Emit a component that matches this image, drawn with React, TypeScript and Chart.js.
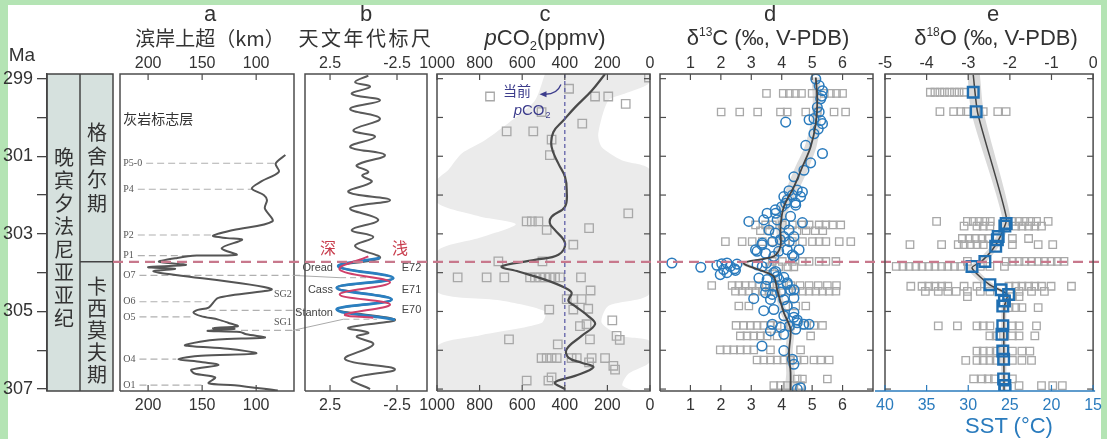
import React, { useEffect, useRef } from 'react';
import { Chart, registerables } from 'chart.js';
Chart.register(...registerables);

type P = [number, number];

// ---------------- data ----------------
const maTicks = [299, 300, 301, 302, 303, 304, 305, 306, 307];
const maLabelled = [299, 301, 303, 305, 307];
const stageBoundaryMa = 303.72;
const periodName = '晚宾夕法尼亚亚纪';
const upperStage = '格舍尔期';
const lowerStage = '卡西莫夫期';

// a: coastal onlap (km)
const onlapTicks = [200, 150, 100];
const onlapKm = [73, 82, 79, 96, 104, 93, 90, 92, 85, 121, 140, 127, 113, 132, 118, 155, 173, 190, 165, 200, 175, 195, 190, 86, 135, 144, 154, 158, 151, 135, 126, 117, 140, 120, 145, 115, 109, 92, 135, 152, 166, 157, 126, 100, 151, 172, 151, 135, 160, 157, 138, 144, 120, 80];
const onlapMa = [300.97, 301.19, 301.4, 301.66, 301.83, 302.0, 302.13, 302.34, 302.68, 302.9, 303.05, 303.11, 303.15, 303.37, 303.54, 303.56, 303.62, 303.72, 303.8, 303.86, 303.9, 303.96, 304.0, 304.42, 304.65, 304.9, 304.96, 305.03, 305.12, 305.21, 305.29, 305.38, 305.43, 305.45, 305.5, 305.53, 305.59, 305.67, 305.72, 305.78, 305.87, 305.9, 305.96, 306.08, 306.14, 306.23, 306.3, 306.38, 306.5, 306.6, 306.7, 306.85, 306.9, 307.04];
const markerTitle = '灰岩标志层';
const markerLabels = ['P5-0', 'P4', 'P2', 'P1', 'O7', 'O6', 'O5', 'O4', 'O1'];
const markerMa = [301.18, 301.85, 303.03, 303.56, 304.07, 304.75, 305.14, 306.23, 306.9];
const markerLineEnd = [80, 104, 140, 158, 65, 144, 157, 174, 148];
const sgLabels = ['SG2', 'SG1'];
const sgLabelMa = [304.56, 305.28];
const sgLineMa = [304.97, 305.49];
const sgLineStart = [144, 114];

// b: astronomical time scale
const astroTicks = [2.5, -2.5];
const astroVal = [-0.36, 0.63, -0.49, 0.88, -1.23, 1.0, -1.23, 0.76, -0.86, 1.0, -1.6, 0.51, -0.36, 0.1, -0.61, 1.13, -1.98, 1.0, -1.1, 0.88, -0.73, 0.63, -1.23, 1.88, -2.22, 2.0, -2.1, 2.0, -2.35, 1.13, -0.36, 0.51, -0.73, 1.38, -2.35, 0.88, -0.49];
const astroMa = [298.92, 299.09, 299.21, 299.39, 299.56, 299.78, 300.03, 300.33, 300.5, 300.76, 300.97, 301.23, 301.4, 301.5, 301.66, 301.92, 302.13, 302.34, 302.64, 302.9, 303.08, 303.32, 303.62, 303.84, 304.14, 304.39, 304.69, 304.95, 305.21, 305.42, 305.55, 305.65, 305.85, 306.23, 306.49, 306.74, 307.0];
const astroBlue: P[] = [[-1.23, 303.62], [1.88, 303.84], [-2.22, 304.14], [2.0, 304.39], [-2.1, 304.69], [2.0, 304.95], [-2.35, 305.21]];
const astroRed: P[] = [[-0.36, 303.58], [1.78, 303.92], [-1.98, 304.25], [1.78, 304.56], [-1.98, 304.82], [1.38, 305.08], [-0.73, 305.16]];
const cycloLabels = ['Oread', 'Cass', 'Stanton'];
const cycloMa = [303.87, 304.44, 305.03];
const eccLabels = ['E72', 'E71', 'E70'];
const eccMa = [303.87, 304.44, 304.95];
const depthLabels = ['深', '浅'];
const depthVal = [2.65, -2.72];
const depthMa = 303.36;

// c: pCO2
const co2Ticks = [1000, 800, 600, 400, 200, 0];
const co2Modern = 400;
const co2Curve: P[] = [[211, 298.88], [274, 299.31], [352, 299.74], [407, 300.08], [454, 300.38], [462, 300.76], [430, 301.19], [399, 301.53], [391, 301.87], [399, 302.3], [462, 302.56], [470, 302.73], [450, 302.88], [399, 303.24], [430, 303.54], [540, 303.67], [696, 303.84], [618, 303.97], [493, 304.18], [399, 304.39], [368, 304.52], [383, 304.73], [352, 304.86], [290, 305.12], [258, 305.33], [321, 305.63], [391, 305.97], [383, 306.19], [321, 306.32], [266, 306.44], [352, 306.66], [446, 306.83], [399, 307.0]];
const co2BandHigh: P[] = [[493, 298.88], [540, 299.56], [650, 300.08], [775, 300.59], [884, 300.93], [948, 301.36], [1000, 301.62], [1000, 302.2], [800, 302.55], [630, 302.75], [800, 303.1], [1000, 303.45], [1000, 304.5], [700, 304.72], [493, 305.0], [510, 305.3], [800, 305.62], [1000, 305.9], [1000, 307.05]];
const co2BandLow: P[] = [[0, 298.88], [8, 299.14], [120, 299.39], [196, 299.56], [243, 300.42], [227, 300.76], [133, 301.1], [0, 301.36], [0, 304.52], [196, 304.86], [227, 305.29], [133, 305.63], [0, 305.76], [0, 306.3], [100, 306.6], [130, 306.9], [80, 307.05]];
const co2Proxy: P[] = [[5, 298.97], [380, 299.26], [751, 299.46], [258, 299.46], [196, 299.46], [114, 299.65], [509, 299.86], [318, 300.16], [673, 300.36], [548, 300.36], [462, 300.57], [470, 300.97], [102, 302.47], [579, 302.68], [555, 302.68], [524, 302.68], [485, 302.9], [286, 302.85], [360, 303.28], [712, 303.71], [505, 303.71], [903, 304.12], [767, 304.12], [684, 304.12], [563, 304.12], [540, 304.12], [516, 304.12], [493, 304.12], [470, 304.12], [446, 304.12], [423, 304.12], [324, 304.12], [279, 304.46], [321, 304.68], [360, 304.68], [391, 304.68], [290, 304.93], [473, 304.95], [360, 304.95], [177, 305.23], [329, 305.38], [298, 305.33], [662, 305.72], [282, 305.72], [433, 305.85], [157, 305.63], [142, 305.73], [509, 306.2], [485, 306.2], [462, 306.2], [438, 306.2], [368, 306.2], [344, 306.2], [274, 306.2], [211, 306.2], [286, 306.31], [172, 306.4], [164, 306.5], [579, 306.78], [477, 306.78], [462, 306.7]];

// d: d13C
const c13Ticks = [1, 2, 3, 4, 5, 6];
const c13Curve: P[] = [[5.12, 298.97], [5.17, 299.56], [5.12, 300.16], [4.95, 300.76], [4.68, 301.27], [4.4, 301.79], [4.07, 302.3], [3.96, 302.81], [3.96, 303.32], [3.74, 303.58], [2.75, 303.75], [3.41, 303.97], [3.74, 304.1], [3.85, 304.44], [4.07, 305.03], [4.29, 305.46], [4.24, 306.06], [4.29, 306.57], [4.29, 307.04]];
const c13BandLeft: P[] = [[4.98, 298.97], [5.02, 299.56], [4.95, 300.16], [4.75, 300.76], [4.45, 301.27], [4.18, 301.79], [3.9, 302.3], [3.82, 302.81], [3.84, 303.32], [3.6, 303.58], [2.6, 303.75], [3.28, 303.97], [3.62, 304.1], [3.74, 304.44], [3.96, 305.03], [4.17, 305.46], [4.12, 306.06], [4.15, 306.57], [4.13, 307.04]];
const c13BandRight: P[] = [[5.25, 298.97], [5.3, 299.56], [5.28, 300.16], [5.14, 300.76], [4.9, 301.27], [4.6, 301.79], [4.25, 302.3], [4.1, 302.81], [4.08, 303.32], [3.88, 303.58], [2.9, 303.75], [3.55, 303.97], [3.86, 304.1], [3.96, 304.44], [4.18, 305.03], [4.41, 305.46], [4.36, 306.06], [4.43, 306.57], [4.45, 307.04]];
const c13RowMa = [299.38, 299.86, 302.77, 302.92, 303.2, 303.71, 303.85, 304.33, 304.48, 304.86, 305.36, 305.63, 305.99, 306.25, 306.74, 306.91];
const c13RowVals = [
  [3.5, 4.05, 4.25, 4.45, 4.65, 5.0, 5.4, 5.6, 5.8, 6.0],
  [2.01, 2.62, 3.21, 3.96, 4.18, 4.79, 5.17, 5.72, 6.1],
  [3.14, 3.47, 3.69, 4.02, 4.35, 4.68, 4.9, 5.23, 5.45, 5.67, 5.94],
  [3.3, 3.6, 4.5, 4.8, 5.1, 5.35],
  [2.15, 2.7, 3.03, 3.36, 3.69, 4.13, 4.35, 4.68, 5.01, 5.23, 5.45, 5.89, 6.27],
  [3.69, 4.02, 4.35, 4.68, 4.9, 5.23, 5.45, 5.78],
  [3.6, 3.9, 4.2, 4.4],
  [1.7, 2.37, 2.59, 2.8, 3.03, 3.25, 3.6, 4.0, 4.3, 4.6, 4.9, 5.2, 5.5, 5.8],
  [2.48, 2.7, 2.92, 3.14, 3.36, 3.58, 3.8, 4.02, 4.24, 4.46, 4.68, 4.9, 5.12, 5.34, 5.56, 5.78],
  [2.59, 2.92, 4.13, 4.46, 4.79],
  [2.5, 2.75, 2.97, 3.19, 3.41, 3.63, 3.85, 4.29, 4.73, 5.06, 5.34],
  [2.64, 2.86, 3.08, 3.3, 3.52, 3.85, 4.95],
  [1.98, 2.2, 2.42, 2.64, 2.86, 3.08, 3.63, 4.62],
  [3.19, 3.41, 3.63, 3.85, 4.07, 4.29, 4.51, 4.73, 5.06, 5.28, 5.56],
  [4.51, 4.68, 5.5],
  [3.74, 3.96, 4.18, 4.4, 4.62],
];
const c13Brach: P[] = [[5.12, 299.01], [5.23, 299.18], [5.34, 299.31], [5.28, 299.52], [5.32, 299.45], [5.17, 299.74], [5.23, 299.86], [4.9, 300.06], [5.06, 300.03], [5.28, 300.08], [5.34, 300.16], [4.13, 300.12], [5.06, 300.42], [5.2, 300.3], [4.79, 300.72], [5.34, 300.93], [4.95, 301.17], [4.73, 301.36], [4.4, 301.53], [4.24, 301.89], [4.51, 301.87], [4.68, 301.92], [4.07, 302.04], [4.18, 302.13], [4.62, 302.04], [4.35, 302.0], [4.45, 302.2], [4.13, 302.21], [4.46, 302.26], [3.79, 302.38], [3.52, 302.47], [3.8, 302.47], [4.0, 302.3], [2.92, 302.68], [3.41, 302.64], [3.85, 302.64], [4.29, 302.55], [4.68, 302.71], [4.1, 302.75], [4.24, 302.9], [3.58, 302.9], [3.79, 302.98], [4.07, 303.07], [4.4, 303.07], [3.95, 303.15], [4.25, 303.2], [3.36, 303.24], [3.35, 303.28], [3.7, 303.2], [3.14, 303.41], [3.19, 303.45], [3.47, 303.5], [4.18, 303.41], [4.57, 303.41], [4.35, 303.54], [3.74, 303.58], [4.4, 303.58], [3.9, 303.45], [3.19, 303.8], [3.5, 303.75], [3.36, 303.84], [0.39, 303.75], [1.34, 303.86], [1.87, 303.81], [2.03, 303.77], [2.2, 303.75], [2.09, 303.92], [2.31, 303.84], [2.53, 303.78], [2.48, 303.94], [1.98, 304.05], [2.2, 304.0], [2.45, 303.9], [3.8, 303.97], [3.74, 304.0], [3.85, 304.1], [3.52, 304.18], [3.25, 304.14], [3.91, 304.18], [4.07, 304.12], [4.18, 304.26], [3.74, 304.35], [3.47, 304.35], [4.18, 304.3], [4.4, 304.44], [3.47, 304.52], [3.69, 304.56], [3.96, 304.5], [4.29, 304.45], [3.63, 304.69], [4.07, 304.7], [4.4, 304.65], [3.08, 304.67], [3.41, 304.98], [3.74, 304.95], [4.18, 304.86], [4.07, 305.11], [4.4, 305.03], [4.4, 305.15], [4.51, 305.22], [4.51, 305.29], [4.73, 305.33], [4.9, 305.33], [3.69, 305.33], [3.63, 305.5], [3.96, 305.41], [4.25, 305.38], [4.07, 305.59], [4.46, 305.46], [3.35, 305.89], [4.07, 306.01], [4.35, 306.23], [4.4, 306.36], [4.51, 307.0], [4.62, 306.97]];

// e: d18O / SST
const o18Ticks = [-5, -4, -3, -2, -1, 0];
const sstTicks = [40, 35, 30, 25, 20, 15];
const o18Curve: P[] = [[-2.88, 298.9], [-2.77, 299.9], [-2.08, 302.6], [-2.23, 303.07], [-2.42, 303.41], [-2.68, 303.71], [-2.91, 303.88], [-2.49, 304.31], [-2.06, 304.56], [-2.14, 304.9], [-2.14, 307.04]];
const o18BandLeft: P[] = [[-3.02, 298.9], [-2.92, 299.9], [-2.18, 302.6], [-2.33, 303.07], [-2.53, 303.41], [-2.8, 303.71], [-3.03, 303.88], [-2.62, 304.31], [-2.14, 304.56], [-2.2, 304.9], [-2.19, 307.04]];
const o18BandRight: P[] = [[-2.72, 298.9], [-2.62, 299.9], [-1.98, 302.6], [-2.13, 303.07], [-2.32, 303.41], [-2.56, 303.71], [-2.8, 303.88], [-2.38, 304.31], [-1.98, 304.56], [-2.08, 304.9], [-2.09, 307.04]];
const o18Mean: P[] = [[-2.88, 299.35], [-2.81, 299.85], [-2.09, 302.73], [-2.12, 302.8], [-2.28, 303.07], [-2.3, 303.15], [-2.34, 303.32], [-2.6, 303.71], [-2.91, 303.84], [-2.48, 304.31], [-2.21, 304.44], [-2.03, 304.56], [-2.13, 304.73], [-2.17, 304.86], [-2.17, 305.37], [-2.19, 305.59], [-2.17, 306.02], [-2.15, 306.23], [-2.15, 306.74], [-2.12, 306.91], [-2.12, 307.04]];
const o18RowMa = [299.35, 299.85, 302.68, 302.8, 303.12, 303.28, 303.71, 303.84, 304.35, 304.48, 304.62, 304.9, 305.37, 305.63, 306.02, 306.26, 306.74, 306.91];
const o18RowVals = [
  [-3.91, -3.8, -3.68, -3.57, -3.45, -3.33, -3.22, -3.1],
  [-3.68, -3.35, -3.18, -3.04, -2.64, -2.29, -2.09],
  [-3.76, -3.02, -2.88, -2.74, -2.6, -2.47, -1.94, -1.78, -1.64, -1.5, -1.36, -1.08],
  [-3.1, -2.79, -2.64, -2.48, -1.86, -1.71, -1.55, -1.4, -1.24],
  [-3.14, -2.98, -2.83, -2.67, -2.52, -1.94, -1.55],
  [-4.4, -3.64, -3.24, -3.1, -2.95, -2.79, -2.64, -1.94, -1.32, -0.97],
  [-3.02, -2.09, -1.94, -1.78, -1.64, -1.48, -1.32, -1.17, -1.01, -0.86, -0.7],
  [-4.73, -4.57, -4.42, -4.26, -4.11, -3.95, -3.8, -3.64, -3.49, -3.33, -3.18, -2.71, -2.48, -2.13],
  [-4.38, -4.11, -3.95, -3.8, -3.64, -3.49, -3.1, -2.79, -2.02, -1.86, -1.71, -1.55, -1.4, -1.24, -1.01, -0.52],
  [-4.03, -3.72, -3.49, -3.29, -3.02, -2.71, -2.48, -1.78, -1.48, -1.17],
  [-3.02, -1.94, -1.78],
  [-2.02, -1.86, -1.71, -1.32],
  [-3.72, -3.26, -2.79, -2.64, -2.48, -1.94, -1.78, -1.36],
  [-2.48, -2.33, -1.94, -1.78, -1.4],
  [-2.79, -2.64, -2.48, -2.33, -1.94, -1.71, -1.52],
  [-3.06, -2.79, -2.64, -2.48, -2.33, -1.94, -1.71, -1.48],
  [-2.87, -2.67, -2.52, -2.37, -1.94],
  [-1.78, -1.24, -0.97, -0.74],
];

// ---------------- layout / style ----------------
const W = 1107, H = 439, TOP = 74, BOT = 391, AXH = 20;
const MA_MIN = 298.88, MA_MAX = 307.05;
const NUM = '"Liberation Sans Narrow", "Liberation Sans", Arial, sans-serif';
const SANS = '"Liberation Sans", Arial, sans-serif';
const CJK = '"Noto Sans CJK SC", sans-serif';
const FRAME = '#4d4d4d';
const GREY_SQ = '#a8a8a8';
const BLUE = '#2a7bbd';
const RED_DASH = '#c8788c';

const pts = (a: P[]) => a.map(([x, y]) => ({ x, y }));
const zip = (xs: number[], ys: number[]) => xs.map((x, i) => ({ x, y: ys[i] }));
const rows = (ma: number[], vals: number[][]) => vals.flatMap((r, i) => r.map((x) => ({ x, y: ma[i] })));
const polygon = (l: P[], r: P[]) => pts(l.concat([...r].reverse()));

function frameTicks(opts: { yTicks: boolean; bottomColor?: string; topTicks: number[]; bottomTicks: number[] }) {
  return {
    id: 'frameTicks',
    afterDraw(chart: any) {
      const { ctx, chartArea: a, scales } = chart;
      ctx.save();
      ctx.lineWidth = 1.5;
      ctx.strokeStyle = FRAME;
      ctx.beginPath();
      ctx.moveTo(a.left, a.bottom);
      ctx.lineTo(a.left, a.top);
      ctx.lineTo(a.right, a.top);
      ctx.lineTo(a.right, a.bottom);
      if (!opts.bottomColor) ctx.lineTo(a.left, a.bottom);
      ctx.stroke();
      ctx.lineWidth = 1.2;
      opts.topTicks.forEach((v) => {
        const px = scales.x.getPixelForValue(v);
        ctx.beginPath(); ctx.moveTo(px, a.top); ctx.lineTo(px, a.top + 6); ctx.stroke();
      });
      if (opts.bottomColor) {
        ctx.strokeStyle = opts.bottomColor;
        ctx.lineWidth = 1.5;
        ctx.beginPath(); ctx.moveTo(a.left - 10, a.bottom); ctx.lineTo(a.right + 2, a.bottom); ctx.stroke();
        ctx.lineWidth = 1.2;
      }
      opts.bottomTicks.forEach((v) => {
        const px = scales.xb.getPixelForValue(v);
        ctx.beginPath(); ctx.moveTo(px, a.bottom); ctx.lineTo(px, a.bottom - 6); ctx.stroke();
      });
      if (opts.yTicks) {
        ctx.strokeStyle = FRAME;
        maTicks.forEach((m) => {
          const py = scales.y.getPixelForValue(m);
          ctx.beginPath(); ctx.moveTo(a.left, py); ctx.lineTo(a.left + 6, py); ctx.stroke();
          ctx.beginPath(); ctx.moveTo(a.right, py); ctx.lineTo(a.right - 6, py); ctx.stroke();
        });
      }
      ctx.restore();
    },
  };
}

function panelConfig(o: any) {
  const tick = (color: string, pad: number) => ({
    padding: pad, font: { family: NUM, size: 16 }, color, maxRotation: 0, autoSkip: false,
    callback: (v: any) => String(v),
  });
  const b = o.bottom || { min: o.xMin, max: o.xMax, reverse: o.reverse, color: '#333' };
  return {
    type: 'scatter',
    data: { datasets: o.datasets },
    options: {
      animation: false, responsive: false, maintainAspectRatio: false, events: [],
      layout: { padding: { left: o.left, right: W - o.right, top: TOP - AXH, bottom: H - BOT - AXH } },
      plugins: { legend: { display: false }, tooltip: { enabled: false } },
      scales: {
        x: {
          type: 'linear', position: 'top', min: o.xMin, max: o.xMax, reverse: o.reverse,
          grid: { display: false, drawTicks: false }, border: { display: false },
          ticks: tick('#333', 1),
          afterBuildTicks: (s: any) => { s.ticks = o.topTicks.map((value: number) => ({ value })); },
          afterFit: (s: any) => { s.height = AXH; },
        },
        xb: {
          type: 'linear', axis: 'x', position: 'bottom', min: b.min, max: b.max, reverse: b.reverse,
          grid: { display: false, drawTicks: false }, border: { display: false },
          ticks: tick(b.color, 5),
          afterBuildTicks: (s: any) => { s.ticks = o.bottomTicks.map((value: number) => ({ value })); },
          afterFit: (s: any) => { s.height = AXH; },
        },
        y: { type: 'linear', min: MA_MIN, max: MA_MAX, reverse: true, display: false },
      },
    },
    plugins: [...(o.plugins || []), frameTicks({ yTicks: !!o.yTicks, bottomColor: o.bottomLine, topTicks: o.topTicks, bottomTicks: o.bottomTicks })],
  };
}

const line = (data: any[], color: string, width: number, tension: number, order: number) => ({
  data, showLine: true, borderColor: color, borderWidth: width, pointRadius: 0, tension, fill: false, order,
  xAxisID: 'x', yAxisID: 'y',
});
const band = (data: any[], color: string, order: number) => ({
  data, showLine: true, borderWidth: 0, borderColor: 'rgba(0,0,0,0)', backgroundColor: color, pointRadius: 0,
  tension: 0.25, fill: 'shape', order, xAxisID: 'x', yAxisID: 'y',
});
const marks = (data: any[], style: string, color: string, r: number, w: number, order: number) => ({
  data, showLine: false, pointStyle: style, pointRadius: r, pointBorderColor: color, pointBorderWidth: w,
  pointBackgroundColor: 'rgba(0,0,0,0)', order, xAxisID: 'x', yAxisID: 'y',
});

// ---------- column chart ----------
function columnConfig() {
  return {
    type: 'scatter',
    data: { datasets: [] },
    options: {
      animation: false, responsive: false, maintainAspectRatio: false, events: [],
      layout: { padding: { left: 0, right: W - 113, top: TOP, bottom: H - BOT } },
      plugins: { legend: { display: false }, tooltip: { enabled: false } },
      scales: {
        x: { type: 'linear', min: 0, max: 1, display: false },
        y: {
          type: 'linear', position: 'left', min: MA_MIN, max: MA_MAX, reverse: true,
          grid: { drawOnChartArea: false, drawTicks: true, tickLength: 10, color: '#444', lineWidth: 1.3 },
          border: { display: true, color: '#444', width: 1.5 },
          ticks: {
            padding: 4, font: { family: NUM, size: 18 }, color: '#333', autoSkip: false,
            callback: (v: any) => (maLabelled.includes(v) ? String(v) : ''),
          },
          afterBuildTicks: (s: any) => { s.ticks = maTicks.map((value) => ({ value })); },
          afterFit: (s: any) => { s.width = 47; },
        },
      },
    },
    plugins: [{
      id: 'column',
      beforeDraw(chart: any) {
        const { ctx, chartArea: a } = chart;
        ctx.save();
        ctx.fillStyle = '#d6e1de';
        ctx.fillRect(a.left, a.top, a.right - a.left, a.bottom - a.top);
        ctx.restore();
      },
      afterDraw(chart: any) {
        const { ctx, chartArea: a, scales } = chart;
        const mid = (a.left + a.right) / 2;
        const yb = scales.y.getPixelForValue(stageBoundaryMa);
        ctx.save();
        ctx.strokeStyle = '#444';
        ctx.lineWidth = 1.5;
        ctx.strokeRect(a.left, a.top, a.right - a.left, a.bottom - a.top);
        ctx.beginPath(); ctx.moveTo(mid, a.top); ctx.lineTo(mid, a.bottom); ctx.stroke();
        ctx.beginPath(); ctx.moveTo(mid, yb); ctx.lineTo(a.right, yb); ctx.stroke();
        ctx.restore();
      },
    }],
  };
}

// ---------- panel a ----------
function panelA() {
  const deco = {
    id: 'aDeco',
    beforeDatasetsDraw(chart: any) {
      const { ctx, chartArea: a, scales: { x, y } } = chart;
      ctx.save();
      ctx.font = `14px ${CJK}`;
      ctx.fillStyle = '#333';
      ctx.textBaseline = 'middle';
      ctx.textAlign = 'left';
      ctx.fillText(markerTitle, x.getPixelForValue(223), y.getPixelForValue(300.03));
      ctx.font = '10px "Liberation Serif", "DejaVu Serif", serif';
      ctx.fillStyle = '#555';
      ctx.strokeStyle = '#b0b0b0';
      ctx.lineWidth = 1.2;
      markerLabels.forEach((lab, i) => {
        const px = x.getPixelForValue(223);
        const py = y.getPixelForValue(markerMa[i]);
        ctx.fillText(lab, px, py);
        const w = ctx.measureText(lab).width;
        ctx.setLineDash([7, 4]);
        ctx.beginPath();
        ctx.moveTo(px + w + 4, py);
        const end = markerLineEnd[i] <= 65 ? a.right + 6 : x.getPixelForValue(markerLineEnd[i]);
        ctx.lineTo(end, py);
        ctx.stroke();
        ctx.setLineDash([]);
      });
      ctx.textAlign = 'right';
      sgLabels.forEach((lab, i) => {
        ctx.fillText(lab, x.getPixelForValue(67), y.getPixelForValue(sgLabelMa[i]));
        const py = y.getPixelForValue(sgLineMa[i]);
        ctx.setLineDash([7, 4]);
        ctx.beginPath(); ctx.moveTo(x.getPixelForValue(sgLineStart[i]), py); ctx.lineTo(a.right + 6, py); ctx.stroke();
        ctx.setLineDash([]);
      });
      ctx.restore();
    },
  };
  return panelConfig({
    left: 120, right: 294, xMin: 65, xMax: 226, reverse: true, topTicks: onlapTicks, bottomTicks: onlapTicks,
    datasets: [line(zip(onlapKm, onlapMa), '#555', 2, 0.3, 0)],
    plugins: [deco],
  });
}

// ---------- panel b ----------
function panelB() {
  const deco = {
    id: 'bDeco',
    beforeDatasetsDraw(chart: any) {
      const { ctx, scales: { x, y } } = chart;
      ctx.save();
      ctx.strokeStyle = '#aaa';
      ctx.lineWidth = 1;
      ctx.beginPath();
      ctx.moveTo(x.getPixelForValue(5.3), y.getPixelForValue(304.07));
      ctx.lineTo(x.getPixelForValue(1.75), y.getPixelForValue(304.13));
      ctx.moveTo(x.getPixelForValue(5.3), y.getPixelForValue(305.49));
      ctx.lineTo(x.getPixelForValue(1.5), y.getPixelForValue(305.2));
      ctx.stroke();
      ctx.setLineDash([6, 4]);
      ctx.beginPath();
      ctx.moveTo(x.getPixelForValue(1.75), y.getPixelForValue(304.13));
      ctx.lineTo(x.getPixelForValue(-1.0), y.getPixelForValue(304.13));
      ctx.moveTo(x.getPixelForValue(1.5), y.getPixelForValue(305.2));
      ctx.lineTo(x.getPixelForValue(-1.0), y.getPixelForValue(305.2));
      ctx.stroke();
      ctx.setLineDash([]);
      ctx.restore();
    },
    afterDatasetsDraw(chart: any) {
      const { ctx, scales: { x, y } } = chart;
      ctx.save();
      ctx.textBaseline = 'middle';
      ctx.font = `16px ${CJK}`;
      ctx.fillStyle = '#c83c4c';
      ctx.textAlign = 'center';
      depthLabels.forEach((t, i) => ctx.fillText(t, x.getPixelForValue(depthVal[i]), y.getPixelForValue(depthMa)));
      ctx.font = `11px ${SANS}`;
      ctx.fillStyle = '#444';
      ctx.textAlign = 'right';
      cycloLabels.forEach((t, i) => ctx.fillText(t, x.getPixelForValue(2.28), y.getPixelForValue(cycloMa[i])));
      ctx.textAlign = 'left';
      eccLabels.forEach((t, i) => ctx.fillText(t, x.getPixelForValue(-2.85), y.getPixelForValue(eccMa[i])));
      ctx.restore();
    },
  };
  return panelConfig({
    left: 305, right: 427, xMin: -4.74, xMax: 4.37, reverse: true, topTicks: astroTicks, bottomTicks: astroTicks,
    datasets: [
      line(pts(astroRed), '#d0406a', 2, 0.4, 0),
      line(pts(astroBlue), '#2a7fc0', 2.8, 0.4, 1),
      line(zip(astroVal, astroMa), '#5a5a5a', 2, 0.4, 2),
    ],
    plugins: [deco],
  });
}

// ---------- panel c ----------
function panelC() {
  const deco = {
    id: 'cDeco',
    afterDatasetsDraw(chart: any) {
      const { ctx, chartArea: a, scales: { x, y } } = chart;
      ctx.save();
      const px = x.getPixelForValue(co2Modern);
      ctx.strokeStyle = '#6060a8';
      ctx.lineWidth = 1.3;
      ctx.setLineDash([4, 3]);
      ctx.beginPath(); ctx.moveTo(px, a.top); ctx.lineTo(px, a.bottom); ctx.stroke();
      ctx.setLineDash([]);
      ctx.fillStyle = '#3c3c8c';
      ctx.textBaseline = 'middle';
      ctx.textAlign = 'center';
      ctx.font = `14px ${CJK}`;
      ctx.fillText('当前', x.getPixelForValue(624), y.getPixelForValue(299.31));
      const bx = x.getPixelForValue(640), by = y.getPixelForValue(299.83);
      ctx.textAlign = 'left';
      ctx.font = `italic 15px ${SANS}`;
      ctx.fillText('p', bx, by);
      let w = ctx.measureText('p').width;
      ctx.font = `15px ${SANS}`;
      ctx.fillText('CO', bx + w, by);
      w += ctx.measureText('CO').width;
      ctx.font = `9px ${SANS}`;
      ctx.fillText('2', bx + w + 1, by + 5);
      ctx.strokeStyle = '#3c3c8c';
      ctx.lineWidth = 1.3;
      const sx = x.getPixelForValue(418), sy = y.getPixelForValue(299.15);
      const cx = x.getPixelForValue(437), cy = y.getPixelForValue(299.42);
      const ex = x.getPixelForValue(500), ey = y.getPixelForValue(299.4);
      ctx.beginPath(); ctx.moveTo(sx, sy); ctx.quadraticCurveTo(cx, cy, ex, ey); ctx.stroke();
      ctx.beginPath(); ctx.moveTo(ex - 4, ey); ctx.lineTo(ex + 3, ey - 3); ctx.lineTo(ex + 3, ey + 3); ctx.closePath(); ctx.fill();
      ctx.restore();
    },
  };
  return panelConfig({
    left: 437, right: 650, xMin: 0, xMax: 1000, reverse: true, topTicks: co2Ticks, bottomTicks: co2Ticks, yTicks: true,
    datasets: [
      line(pts(co2Curve), '#4a4a4a', 2.2, 0.4, 0),
      marks(pts(co2Proxy), 'rect', GREY_SQ, 6, 1.3, 1),
      band(polygon(co2BandHigh, co2BandLow), '#ebebeb', 2),
    ],
    plugins: [deco],
  });
}

// ---------- panel d ----------
function panelD() {
  return panelConfig({
    left: 660, right: 873, xMin: 0, xMax: 7, reverse: false, topTicks: c13Ticks, bottomTicks: c13Ticks, yTicks: true,
    datasets: [
      line(pts(c13Curve), '#444', 1.8, 0.3, 0),
      marks(pts(c13Brach), 'circle', BLUE, 4.8, 1.5, 1),
      marks(rows(c13RowMa, c13RowVals), 'rect', GREY_SQ, 5.2, 1.3, 2),
      band(polygon(c13BandLeft, c13BandRight), '#dcdcdc', 3),
    ],
  });
}

// ---------- panel e ----------
function panelE() {
  const redLine = {
    id: 'redLine',
    afterDraw(chart: any) {
      const { ctx, scales: { y } } = chart;
      const py = y.getPixelForValue(stageBoundaryMa);
      ctx.save();
      ctx.strokeStyle = RED_DASH;
      ctx.lineWidth = 2.2;
      ctx.setLineDash([10, 6]);
      ctx.beginPath(); ctx.moveTo(113, py); ctx.lineTo(W - 4, py); ctx.stroke();
      ctx.restore();
    },
  };
  return panelConfig({
    left: 885, right: 1100, xMin: -5, xMax: 0, reverse: false, topTicks: o18Ticks, bottomTicks: sstTicks, yTicks: true,
    bottom: { min: 15, max: 40, reverse: true, color: BLUE }, bottomLine: BLUE,
    datasets: [
      marks(pts(o18Mean), 'rect', '#1f6fb2', 7.5, 2.4, 0),
      line(pts(o18Curve), '#444', 1.5, 0.2, 1),
      marks(rows(o18RowMa, o18RowVals), 'rect', GREY_SQ, 5.3, 1.3, 2),
      band(polygon(o18BandLeft, o18BandRight), '#d9d9d9', 3),
    ],
    plugins: [redLine],
  });
}

const builders = [columnConfig, panelA, panelB, panelC, panelD, panelE];

const abs = (s: any): React.CSSProperties => ({ position: 'absolute', margin: 0, ...s });

function Title({ cx, cy, size, children, color = '#333', font = SANS, spacing = 0 }: any) {
  return (
    <div style={abs({ left: cx - 150, top: cy - 14, width: 300, height: 28, lineHeight: '28px', textAlign: 'center', fontSize: size, fontFamily: font, color, letterSpacing: spacing, whiteSpace: 'nowrap' })}>
      {children}
    </div>
  );
}

function VText({ text, cx, top, step }: any) {
  return (
    <>
      {Array.from(text).map((ch: any, i: number) => (
        <div key={i} style={abs({ left: cx - 12, top: top + i * step, width: 24, height: step, lineHeight: step + 'px', textAlign: 'center', fontSize: 20, fontFamily: CJK, color: '#333' })}>{ch}</div>
      ))}
    </>
  );
}

export default function App() {
  const refs = useRef<(HTMLCanvasElement | null)[]>([]);
  useEffect(() => {
    const charts = builders.map((b, i) => new Chart(refs.current[i] as HTMLCanvasElement, b() as any));
    return () => charts.forEach((c) => c.destroy());
  }, []);
  return (
    <div style={abs({ left: 0, top: 0, width: W, height: H, background: '#b4e4b4', overflow: 'hidden' })}>
      <div style={abs({ left: 8, top: 5, width: 1093, height: H, background: '#fff' })} />
      {builders.map((_, i) => (
        <canvas key={i} ref={(el) => { refs.current[i] = el; }} width={W} height={H} style={abs({ left: 0, top: 0, width: W, height: H })} />
      ))}
      <Title cx={22} cy={55} size={19} font={NUM}>Ma</Title>
      <Title cx={210} cy={14} size={22}>a</Title>
      <Title cx={210} cy={38} size={20} font={CJK}>滨岸上超（km）</Title>
      <Title cx={366} cy={14} size={22}>b</Title>
      <Title cx={366} cy={38} size={20} font={CJK} spacing={2.5}>天文年代标尺</Title>
      <Title cx={545} cy={14} size={22}>c</Title>
      <Title cx={545} cy={38} size={22}><i>p</i>CO<span style={{ fontSize: 13, position: 'relative', top: 5 }}>2</span>(ppmv)</Title>
      <Title cx={770} cy={14} size={22}>d</Title>
      <Title cx={768} cy={38} size={22}>δ<span style={{ fontSize: 12, position: 'relative', top: -9 }}>13</span>C (‰, V-PDB)</Title>
      <Title cx={993} cy={14} size={22}>e</Title>
      <Title cx={996} cy={38} size={22}>δ<span style={{ fontSize: 12, position: 'relative', top: -9 }}>18</span>O (‰, V-PDB)</Title>
      <Title cx={1009} cy={426} size={22} color={BLUE}>SST (°C)</Title>
      <VText text={periodName} cx={64} top={145} step={23} />
      <VText text={upperStage} cx={97} top={120} step={23.5} />
      <VText text={lowerStage} cx={97} top={275} step={22} />
    </div>
  );
}
